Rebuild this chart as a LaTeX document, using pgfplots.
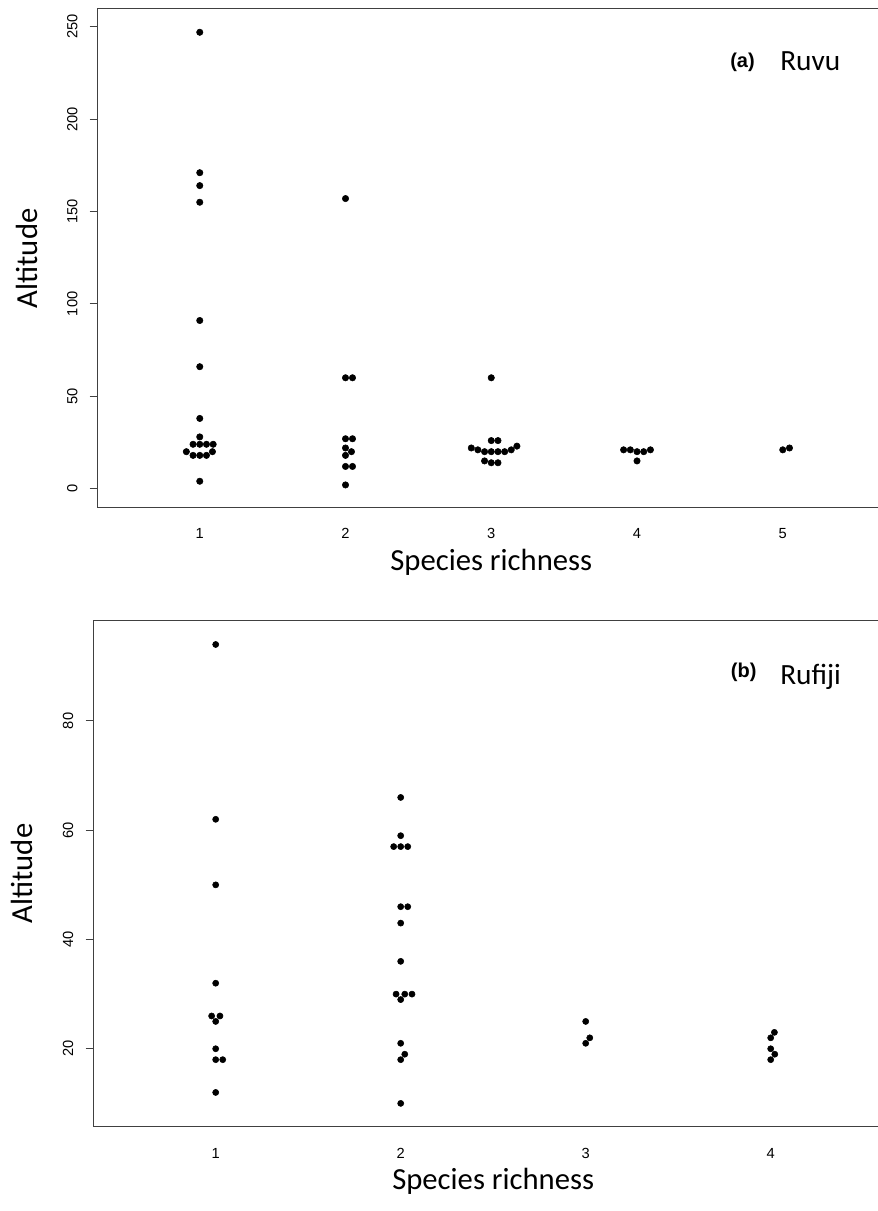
\documentclass[border=0pt]{standalone}
\usepackage{fontspec}
\setmainfont{Liberation Sans}
\newfontfamily\carlito{Carlito}
\usepackage{pgfplots}
\pgfplotsset{compat=1.18}

\pgfplotsset{
  rplot/.style={
    scale only axis,
    axis line style={black!75, line width=0.75pt},
    xtick pos=bottom, ytick pos=left,
    xtick align=inside, ytick align=outside,
    major x tick style={draw=none},
    major y tick style={black!75, line width=0.75pt},
    major tick length=6pt,
    tick label style={font=\fontsize{11}{13}\selectfont},
    /pgf/number format/assume math mode=true,
    yticklabel style={rotate=90, anchor=south, inner sep=0pt, yshift=9pt},
    xticklabel style={anchor=north, inner sep=0pt},
    xlabel style={font=\carlito\fontsize{23}{27}\selectfont,
      at={([yshift=-47.25pt]axis description cs:0.5,0)}, anchor=base},
    ylabel style={font=\carlito\fontsize{23}{27}\selectfont,
      at={([xshift=-45.5pt]axis description cs:0,0.5)}, anchor=base},
    xlabel={Species richness},
    ylabel={Altitude},
    clip=false,
  },
  dots/.style={only marks, mark=*, mark size=2.4pt, black},
}

\begin{document}
\begin{tikzpicture}
% (a) Ruvu
\begin{axis}[rplot,
  at={(73.3pt,527.5pt)}, anchor=south west,
  width=590.3pt, height=374.0pt,
  xmin=0.3, xmax=5.7, ymin=-10.3, ymax=259.6,
  xtick={1,2,3,4,5}, ytick={0,50,100,150,200,250},
  xticklabel style={yshift=-15.3pt}]
\addplot[dots] coordinates {
  (1,247) (1,171) (1,164) (1,155) (1,91) (1,66) (1,38) (1,28)
  (0.954,24) (1,24) (1.046,24) (1.092,24)
  (0.908,20) (1.087,20)
  (0.954,18) (1,18) (1.046,18)
  (1,4)
};
\addplot[dots] coordinates {
  (2,157) (2,60) (2.048,60) (2,27) (2.048,27) (2,22) (2.041,20)
  (2,18) (2,12) (2.048,12) (2,2)
};
\addplot[dots] coordinates {
  (3,60) (3,26) (3.046,26)
  (2.863,22) (2.908,21) (2.954,20) (3,20) (3.046,20) (3.092,20)
  (3.137,21) (3.176,23)
  (2.954,15) (3,14) (3.046,14)
};
\addplot[dots] coordinates {
  (3.908,21) (3.954,21) (4,20) (4.046,20) (4.092,21) (4,15)
};
\addplot[dots] coordinates {(5,21) (5.046,22)};
\end{axis}

% (b) Rufiji
\begin{axis}[rplot,
  at={(70.2pt,63.75pt)}, anchor=south west,
  width=599.4pt, height=378.75pt,
  xmin=0.34, xmax=4.66, ymin=5.86, ymax=98.3,
  xtick={1,2,3,4}, ytick={20,40,60,80},
  xticklabel style={yshift=-16.7pt}]
\addplot[dots, mark size=2.3pt] coordinates {
  (1,94) (1,62) (1,50) (1,32) (0.978,26) (1.023,26) (1,25)
  (1,20) (1,18) (1.038,18) (1,12)
};
\addplot[dots, mark size=2.3pt] coordinates {
  (2,66) (2,59) (1.962,57) (2,57) (2.038,57) (2,46) (2.038,46)
  (2,43) (2,36) (1.975,30) (2.022,30) (2.061,30) (2,29)
  (2,21) (2.022,19) (2,18) (2,10)
};
\addplot[dots, mark size=2.3pt] coordinates {(3,25) (3.022,22) (3,21)};
\addplot[dots, mark size=2.3pt] coordinates {
  (4.020,23) (4,22) (4,20) (4.022,19) (4,18)
};
\end{axis}

\node[anchor=base west, inner sep=0pt, font=\bfseries\fontsize{15}{17}\selectfont] at (547.5pt,857.25pt) {(a)};
\node[anchor=base west, inner sep=0pt, font=\carlito\fontsize{22}{26}\selectfont] at (585pt,855.2pt) {Ruvu};
\node[anchor=base west, inner sep=0pt, font=\bfseries\fontsize{15}{17}\selectfont] at (548pt,399.75pt) {(b)};
\node[anchor=base west, inner sep=0pt, font=\carlito\fontsize{22}{26}\selectfont] at (585pt,394.5pt) {Rufiji};

\pgfresetboundingbox
\useasboundingbox (0,0) rectangle (658.5pt,908.25pt);
\end{tikzpicture}
\end{document}
